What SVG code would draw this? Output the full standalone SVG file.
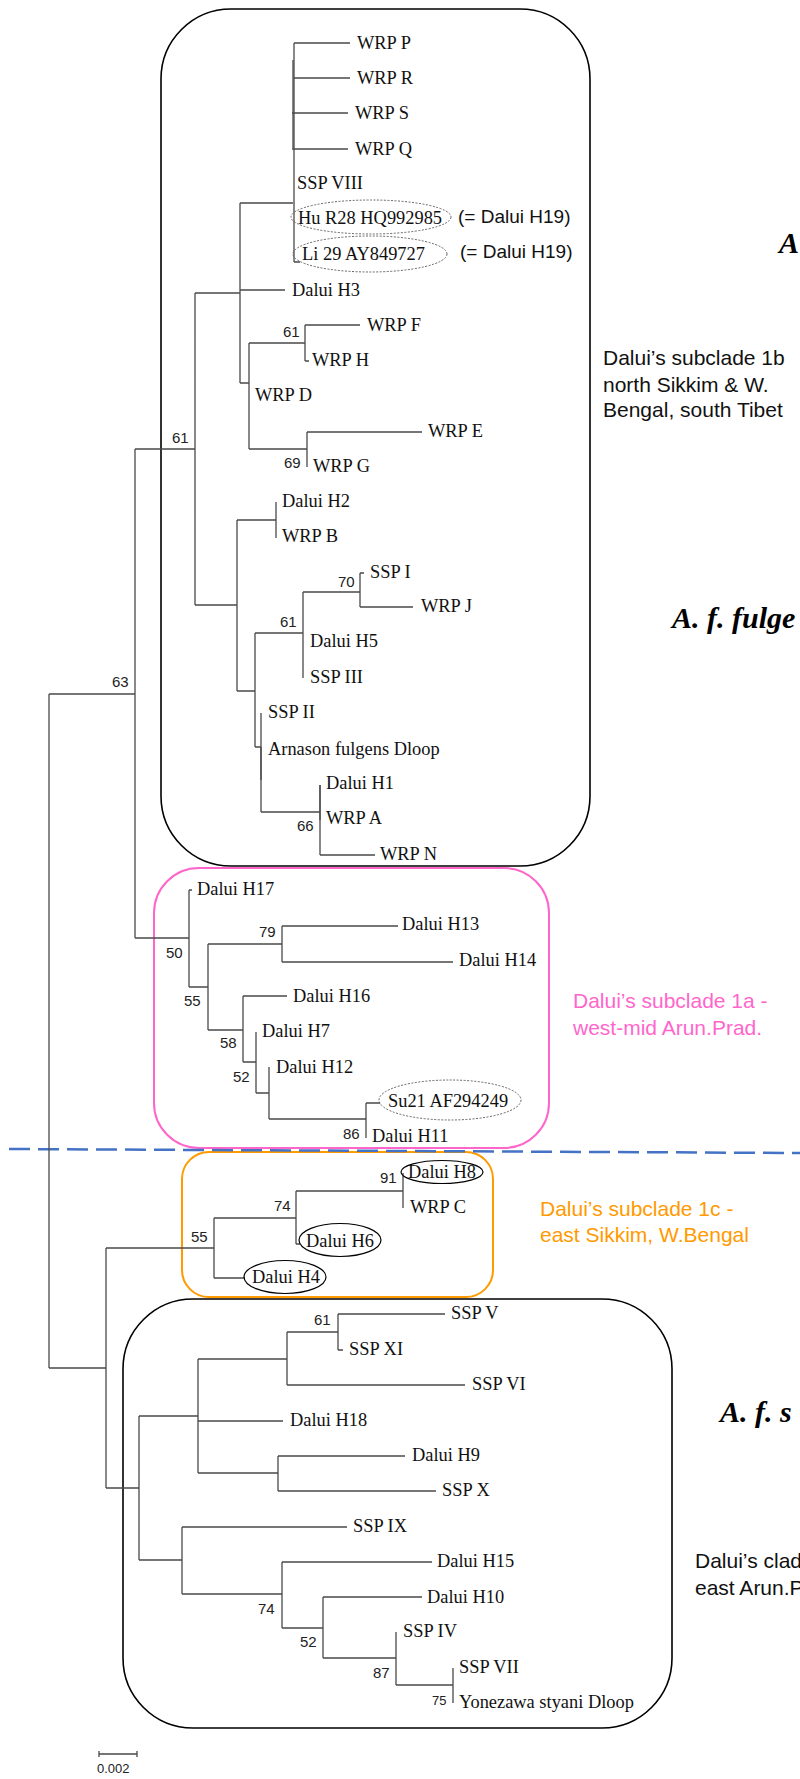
<svg xmlns="http://www.w3.org/2000/svg" width="800" height="1779" viewBox="0 0 800 1779">
<style>
.t{font-family:"Liberation Serif","Times New Roman",serif;font-size:18.4px;fill:#111}
.b{font-family:"Liberation Sans",Arial,sans-serif;font-size:15px;fill:#222}
.s{font-family:"Liberation Sans",Arial,sans-serif;font-size:21px;fill:#111}
.big{font-family:"Liberation Serif","Times New Roman",serif;font-size:30px;font-weight:bold;font-style:italic;fill:#000}
.br{fill:none;stroke:#4a4a4a;stroke-width:1.3}
.box{fill:none;stroke:#000;stroke-width:1.6}
.de{fill:none;stroke:#555;stroke-width:0.9;stroke-dasharray:2 1.5}
.se{fill:none;stroke:#000;stroke-width:1.2}
</style>
<rect width="800" height="1779" fill="#fff"/>
<g id="boxes">
<rect id="box-1b" class="box" x="161" y="9" width="429" height="857" rx="70"/>
<rect id="box-1a" x="154" y="868" width="395" height="280" rx="45" fill="none" stroke="#FF66CC" stroke-width="2"/>
<rect id="box-1c" x="182" y="1152" width="311" height="145" rx="27" fill="none" stroke="#FF9A00" stroke-width="2"/>
<rect id="box-2" class="box" x="123" y="1299" width="549" height="429" rx="70"/>
</g>
<line id="divider" x1="9" y1="1149" x2="800" y2="1153" stroke="#4472C4" stroke-width="2.5" stroke-dasharray="21 8"/>
<g id="connectors">
<path class="br" d="M294,43V262M294,43H350M294,78H350M292,113H348M292,149H348M294,262H300M240,203H293M240,203V383M240,290H285M195,293H240M240,383H249M249,343V449M249,343H305M305,325V361M305,325H360M305,361H309M249,449H307M307,432V467M307,432H422M195,293V605M135,449H195M195,605H237M237,520V691M237,520H276M276,502V538M237,691H255M255,633V747M255,633H303M303,592V678M303,592H360M360,573V607M360,573H364M360,607H413M255,747H261M261,713V812M261,812H320M320,785V855M320,855H375"/>
<path class="br" stroke-width="2" d="M293,60V148M261,747V780M320,785V820"/>
<path class="br" d="M49,694V1368M49,694H135M135,449V938M135,938H189M189,890V987M189,890H192M189,987H208M208,944V1030M208,944H282M282,926V962M282,926H398M282,962H453M208,1030H243M243,996V1062M243,996H287M243,1062H256M256,1032V1093M256,1093H269M269,1067V1119M269,1119H366M366,1103V1138M366,1103H380"/>
<path class="br" d="M49,1368H106M106,1248V1488M106,1248H214M214,1218V1278M214,1218H296M296,1191V1244M296,1244H300M296,1191H403M403,1173V1208M214,1278H245"/>
<path class="br" d="M106,1488H139M139,1416V1560M139,1416H198M198,1359V1473M198,1359H287M287,1332V1385M287,1332H338M338,1314V1350M338,1314H445M338,1350H343M287,1385H465M198,1421H283M198,1473H278M278,1456V1491M278,1456H405M278,1491H436M139,1560H182M182,1527V1594M182,1527H347M182,1594H282M282,1562V1628M282,1562H432M282,1628H323M323,1597V1658M323,1597H422M323,1658H396M396,1632V1685M396,1685H453M453,1668V1703"/>
</g>
<g id="ellipses">
<ellipse class="de" cx="371" cy="217" rx="80" ry="17"/>
<ellipse class="de" cx="370" cy="254" rx="77" ry="18"/>
<ellipse class="de" cx="450" cy="1100" rx="71" ry="20"/>
<ellipse class="se" cx="442" cy="1172" rx="41" ry="11.5"/>
<ellipse class="se" cx="340" cy="1240" rx="41" ry="16.5"/>
<ellipse class="se" cx="285" cy="1277" rx="41" ry="16.5"/>
</g>
<g id="taxa">
<g id="n-wrpp"><text class="t" x="357" y="49">WRP P</text></g>
<g id="n-wrpr"><text class="t" x="357" y="84">WRP R</text></g>
<g id="n-wrps"><text class="t" x="355" y="119">WRP S</text></g>
<g id="n-wrpq"><text class="t" x="355" y="155">WRP Q</text></g>
<g id="n-ssp8"><text class="t" x="297" y="189">SSP VIII</text></g>
<g id="n-hur28"><text class="t" x="298" y="224">Hu R28 HQ992985</text></g>
<g id="n-li29"><text class="t" x="302" y="260">Li 29 AY849727</text></g>
<g id="n-h3"><text class="t" x="292" y="296">Dalui H3</text></g>
<g id="n-wrpf"><text class="t" x="367" y="331">WRP F</text></g>
<g id="n-wrph"><text class="t" x="312" y="366">WRP H</text></g>
<g id="n-wrpd"><text class="t" x="255" y="401">WRP D</text></g>
<g id="n-wrpe"><text class="t" x="428" y="437">WRP E</text></g>
<g id="n-wrpg"><text class="t" x="313" y="472">WRP G</text></g>
<g id="n-h2"><text class="t" x="282" y="507">Dalui H2</text></g>
<g id="n-wrpb"><text class="t" x="282" y="542">WRP B</text></g>
<g id="n-ssp1"><text class="t" x="370" y="578">SSP I</text></g>
<g id="n-wrpj"><text class="t" x="421" y="612">WRP J</text></g>
<g id="n-h5"><text class="t" x="310" y="647">Dalui H5</text></g>
<g id="n-ssp3"><text class="t" x="310" y="683">SSP III</text></g>
<g id="n-ssp2"><text class="t" x="268" y="718">SSP II</text></g>
<g id="n-arn"><text class="t" x="268" y="755">Arnason fulgens Dloop</text></g>
<g id="n-h1"><text class="t" x="326" y="789">Dalui H1</text></g>
<g id="n-wrpa"><text class="t" x="326" y="824">WRP A</text></g>
<g id="n-wrpn"><text class="t" x="380" y="860">WRP N</text></g>
<g id="n-h17"><text class="t" x="197" y="895">Dalui H17</text></g>
<g id="n-h13"><text class="t" x="402" y="930">Dalui H13</text></g>
<g id="n-h14"><text class="t" x="459" y="966">Dalui H14</text></g>
<g id="n-h16"><text class="t" x="293" y="1002">Dalui H16</text></g>
<g id="n-h7"><text class="t" x="262" y="1037">Dalui H7</text></g>
<g id="n-h12"><text class="t" x="276" y="1073">Dalui H12</text></g>
<g id="n-su21"><text class="t" x="388" y="1107">Su21 AF294249</text></g>
<g id="n-h11"><text class="t" x="372" y="1142">Dalui H11</text></g>
<g id="n-h8"><text class="t" x="408" y="1178">Dalui H8</text></g>
<g id="n-wrpc"><text class="t" x="410" y="1213">WRP C</text></g>
<g id="n-h6"><text class="t" x="306" y="1247">Dalui H6</text></g>
<g id="n-h4"><text class="t" x="252" y="1283">Dalui H4</text></g>
<g id="n-ssp5"><text class="t" x="451" y="1319">SSP V</text></g>
<g id="n-ssp11"><text class="t" x="349" y="1355">SSP XI</text></g>
<g id="n-ssp6"><text class="t" x="472" y="1390">SSP VI</text></g>
<g id="n-h18"><text class="t" x="290" y="1426">Dalui H18</text></g>
<g id="n-h9"><text class="t" x="412" y="1461">Dalui H9</text></g>
<g id="n-ssp10"><text class="t" x="442" y="1496">SSP X</text></g>
<g id="n-ssp9"><text class="t" x="353" y="1532">SSP IX</text></g>
<g id="n-h15"><text class="t" x="437" y="1567">Dalui H15</text></g>
<g id="n-h10"><text class="t" x="427" y="1603">Dalui H10</text></g>
<g id="n-ssp4"><text class="t" x="403" y="1637">SSP IV</text></g>
<g id="n-ssp7"><text class="t" x="459" y="1673">SSP VII</text></g>
<g id="n-yon"><text class="t" x="459" y="1708">Yonezawa styani Dloop</text></g>
</g>
<g id="notes">
<text class="s" x="458" y="223" style="font-size:19px">(= Dalui H19)</text>
<text class="s" x="460" y="258" style="font-size:19px">(= Dalui H19)</text>
</g>
<g id="bootstrap">
<text class="b" x="172" y="443">61</text>
<text class="b" x="283" y="337">61</text>
<text class="b" x="284" y="468">69</text>
<text class="b" x="338" y="587">70</text>
<text class="b" x="280" y="627">61</text>
<text class="b" x="297" y="831">66</text>
<text class="b" x="112" y="687">63</text>
<text class="b" x="166" y="958">50</text>
<text class="b" x="259" y="937">79</text>
<text class="b" x="184" y="1006">55</text>
<text class="b" x="220" y="1048">58</text>
<text class="b" x="233" y="1082">52</text>
<text class="b" x="343" y="1139">86</text>
<text class="b" x="380" y="1183">91</text>
<text class="b" x="274" y="1211">74</text>
<text class="b" x="191" y="1242">55</text>
<text class="b" x="314" y="1325">61</text>
<text class="b" x="258" y="1614">74</text>
<text class="b" x="300" y="1647">52</text>
<text class="b" x="373" y="1678">87</text>
<text class="b" x="432" y="1705" style="font-size:13px">75</text>
</g>
<g id="labels">
<text class="s" x="603" y="365">Dalui’s subclade 1b</text>
<text class="s" x="603" y="392">north Sikkim &amp; W.</text>
<text class="s" x="603" y="417">Bengal, south Tibet</text>
<text class="s" x="573" y="1008" style="fill:#FF66CC">Dalui’s subclade 1a -</text>
<text class="s" x="573" y="1035" style="fill:#FF66CC">west-mid Arun.Prad.</text>
<text class="s" x="540" y="1216" style="fill:#FF9A00">Dalui’s subclade 1c -</text>
<text class="s" x="540" y="1242" style="fill:#FF9A00">east Sikkim, W.Bengal</text>
<text class="s" x="695" y="1568">Dalui’s clad</text>
<text class="s" x="695" y="1595">east Arun.P</text>
<text class="big" x="779" y="253">A</text>
<text class="big" x="672" y="628">A. f. fulge</text>
<text class="big" x="720" y="1422">A. f. s</text>
</g>
<g id="scalebar">
<path class="br" d="M99,1754H137M99,1751V1757M137,1751V1757"/>
<text class="b" x="97" y="1773" style="font-size:13px">0.002</text>
</g>
</svg>
